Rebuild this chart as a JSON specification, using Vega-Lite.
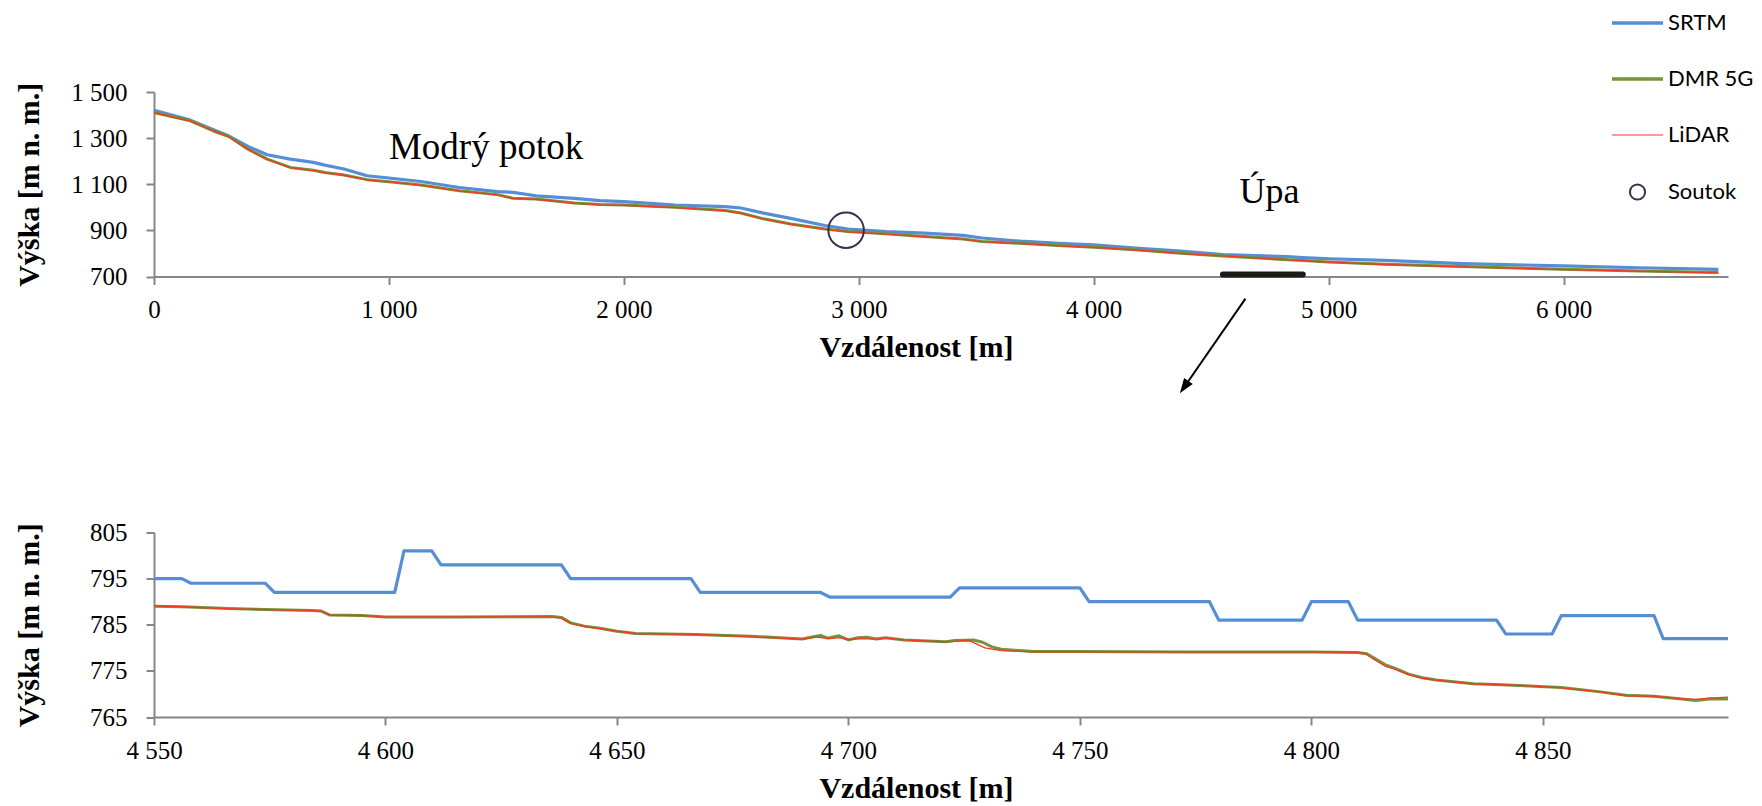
{
  "$schema": "https://vega.github.io/schema/vega-lite/v6.json",
  "background": "white",
  "padding": {"left": 14, "top": 12, "right": 0, "bottom": 0},
  "config": {
    "locale": {"number": {"decimal": ",", "thousands": " ", "grouping": [3], "currency": ["", ""]}},
    "view": {"stroke": null},
    "axis": {"domainColor": "#868686", "domainWidth": 2, "tickColor": "#868686", "tickWidth": 2, "tickSize": 8, "grid": false,
      "labelFont": "Liberation Serif", "labelFontSize": 25, "labelColor": "black",
      "titleFont": "Liberation Serif", "titleFontSize": 30, "titleFontWeight": "bold", "titleColor": "black",
      "labelOverlap": false, "labelFlush": false},
    "axisX": {"labelPadding": 13, "titleX": 762, "titleY": 71, "titleBaseline": "middle", "titleAlign": "center"},
    "axisY": {"labelPadding": 19, "titleX": -125, "titleBaseline": "middle", "titleAlign": "center"}
  },
  "datasets": {
    "profile": [
      {"s": "SRTM", "d": 0, "h": 1421}, {"s": "SRTM", "d": 155, "h": 1378}, {"s": "SRTM", "d": 253, "h": 1336}, {"s": "SRTM", "d": 319, "h": 1309},
      {"s": "SRTM", "d": 400, "h": 1264}, {"s": "SRTM", "d": 482, "h": 1228}, {"s": "SRTM", "d": 580, "h": 1209}, {"s": "SRTM", "d": 678, "h": 1195},
      {"s": "SRTM", "d": 727, "h": 1183}, {"s": "SRTM", "d": 809, "h": 1166}, {"s": "SRTM", "d": 907, "h": 1137}, {"s": "SRTM", "d": 1000, "h": 1127},
      {"s": "SRTM", "d": 1136, "h": 1112}, {"s": "SRTM", "d": 1299, "h": 1086}, {"s": "SRTM", "d": 1462, "h": 1068}, {"s": "SRTM", "d": 1528, "h": 1065},
      {"s": "SRTM", "d": 1626, "h": 1050}, {"s": "SRTM", "d": 1789, "h": 1039}, {"s": "SRTM", "d": 1900, "h": 1029}, {"s": "SRTM", "d": 2000, "h": 1025},
      {"s": "SRTM", "d": 2220, "h": 1010}, {"s": "SRTM", "d": 2432, "h": 1003}, {"s": "SRTM", "d": 2498, "h": 997}, {"s": "SRTM", "d": 2595, "h": 975},
      {"s": "SRTM", "d": 2710, "h": 952}, {"s": "SRTM", "d": 2856, "h": 921}, {"s": "SRTM", "d": 2954, "h": 906}, {"s": "SRTM", "d": 3117, "h": 895},
      {"s": "SRTM", "d": 3280, "h": 888}, {"s": "SRTM", "d": 3444, "h": 878}, {"s": "SRTM", "d": 3525, "h": 867}, {"s": "SRTM", "d": 3688, "h": 853},
      {"s": "SRTM", "d": 3851, "h": 844}, {"s": "SRTM", "d": 4000, "h": 837}, {"s": "SRTM", "d": 4178, "h": 823}, {"s": "SRTM", "d": 4370, "h": 810},
      {"s": "SRTM", "d": 4550, "h": 795}, {"s": "SRTM", "d": 4824, "h": 786}, {"s": "SRTM", "d": 4890, "h": 782}, {"s": "SRTM", "d": 5000, "h": 777},
      {"s": "SRTM", "d": 5239, "h": 770}, {"s": "SRTM", "d": 5571, "h": 756}, {"s": "SRTM", "d": 6000, "h": 746}, {"s": "SRTM", "d": 6319, "h": 738},
      {"s": "SRTM", "d": 6659, "h": 731},
      {"s": "DMR 5G", "d": 0, "h": 1411}, {"s": "DMR 5G", "d": 155, "h": 1375}, {"s": "DMR 5G", "d": 253, "h": 1331}, {"s": "DMR 5G", "d": 319, "h": 1307},
      {"s": "DMR 5G", "d": 400, "h": 1252}, {"s": "DMR 5G", "d": 482, "h": 1209}, {"s": "DMR 5G", "d": 580, "h": 1173}, {"s": "DMR 5G", "d": 678, "h": 1161},
      {"s": "DMR 5G", "d": 727, "h": 1151}, {"s": "DMR 5G", "d": 809, "h": 1140}, {"s": "DMR 5G", "d": 907, "h": 1120}, {"s": "DMR 5G", "d": 1000, "h": 1111},
      {"s": "DMR 5G", "d": 1136, "h": 1097}, {"s": "DMR 5G", "d": 1299, "h": 1072}, {"s": "DMR 5G", "d": 1462, "h": 1055}, {"s": "DMR 5G", "d": 1528, "h": 1039},
      {"s": "DMR 5G", "d": 1626, "h": 1036}, {"s": "DMR 5G", "d": 1789, "h": 1019}, {"s": "DMR 5G", "d": 1900, "h": 1012}, {"s": "DMR 5G", "d": 2000, "h": 1010},
      {"s": "DMR 5G", "d": 2220, "h": 1000}, {"s": "DMR 5G", "d": 2432, "h": 986}, {"s": "DMR 5G", "d": 2498, "h": 975}, {"s": "DMR 5G", "d": 2595, "h": 950},
      {"s": "DMR 5G", "d": 2710, "h": 928}, {"s": "DMR 5G", "d": 2856, "h": 906}, {"s": "DMR 5G", "d": 2954, "h": 895}, {"s": "DMR 5G", "d": 3117, "h": 885},
      {"s": "DMR 5G", "d": 3280, "h": 873}, {"s": "DMR 5G", "d": 3444, "h": 863}, {"s": "DMR 5G", "d": 3525, "h": 852}, {"s": "DMR 5G", "d": 3688, "h": 844},
      {"s": "DMR 5G", "d": 3851, "h": 834}, {"s": "DMR 5G", "d": 4000, "h": 827}, {"s": "DMR 5G", "d": 4178, "h": 816}, {"s": "DMR 5G", "d": 4370, "h": 801},
      {"s": "DMR 5G", "d": 4550, "h": 789}, {"s": "DMR 5G", "d": 4824, "h": 773}, {"s": "DMR 5G", "d": 4890, "h": 769}, {"s": "DMR 5G", "d": 5000, "h": 763},
      {"s": "DMR 5G", "d": 5239, "h": 753}, {"s": "DMR 5G", "d": 5571, "h": 743}, {"s": "DMR 5G", "d": 6000, "h": 731}, {"s": "DMR 5G", "d": 6319, "h": 724},
      {"s": "DMR 5G", "d": 6659, "h": 717},
      {"s": "LiDAR", "d": 0, "h": 1410}, {"s": "LiDAR", "d": 155, "h": 1374}, {"s": "LiDAR", "d": 253, "h": 1331}, {"s": "LiDAR", "d": 319, "h": 1306},
      {"s": "LiDAR", "d": 400, "h": 1251}, {"s": "LiDAR", "d": 482, "h": 1208}, {"s": "LiDAR", "d": 580, "h": 1172}, {"s": "LiDAR", "d": 678, "h": 1160},
      {"s": "LiDAR", "d": 727, "h": 1150}, {"s": "LiDAR", "d": 809, "h": 1139}, {"s": "LiDAR", "d": 907, "h": 1119}, {"s": "LiDAR", "d": 1000, "h": 1110},
      {"s": "LiDAR", "d": 1136, "h": 1096}, {"s": "LiDAR", "d": 1299, "h": 1071}, {"s": "LiDAR", "d": 1462, "h": 1054}, {"s": "LiDAR", "d": 1528, "h": 1039},
      {"s": "LiDAR", "d": 1626, "h": 1035}, {"s": "LiDAR", "d": 1789, "h": 1018}, {"s": "LiDAR", "d": 1900, "h": 1011}, {"s": "LiDAR", "d": 2000, "h": 1009},
      {"s": "LiDAR", "d": 2220, "h": 999}, {"s": "LiDAR", "d": 2432, "h": 985}, {"s": "LiDAR", "d": 2498, "h": 974}, {"s": "LiDAR", "d": 2595, "h": 949},
      {"s": "LiDAR", "d": 2710, "h": 927}, {"s": "LiDAR", "d": 2856, "h": 905}, {"s": "LiDAR", "d": 2954, "h": 894}, {"s": "LiDAR", "d": 3117, "h": 884},
      {"s": "LiDAR", "d": 3280, "h": 872}, {"s": "LiDAR", "d": 3444, "h": 862}, {"s": "LiDAR", "d": 3525, "h": 851}, {"s": "LiDAR", "d": 3688, "h": 843},
      {"s": "LiDAR", "d": 3851, "h": 833}, {"s": "LiDAR", "d": 4000, "h": 826}, {"s": "LiDAR", "d": 4178, "h": 815}, {"s": "LiDAR", "d": 4370, "h": 800},
      {"s": "LiDAR", "d": 4550, "h": 789}, {"s": "LiDAR", "d": 4824, "h": 773}, {"s": "LiDAR", "d": 4890, "h": 769}, {"s": "LiDAR", "d": 5000, "h": 762},
      {"s": "LiDAR", "d": 5239, "h": 752}, {"s": "LiDAR", "d": 5571, "h": 742}, {"s": "LiDAR", "d": 6000, "h": 730}, {"s": "LiDAR", "d": 6319, "h": 723},
      {"s": "LiDAR", "d": 6659, "h": 716}
    ],
    "soutok": [{"s": "Soutok", "d": 2946, "h": 901}],
    "labels": [{"label": "Modrý potok", "d": 1000, "h": 1211, "z": 37}, {"label": "Úpa", "d": 4621, "h": 1017, "z": 36}],
    "segment": [{"d": 4550, "d2": 4890, "h": 709}],
    "arrow": [{"d": 4646, "h": 604, "d2": 4385, "h2": 220}],
    "detail": [
      {"s": "SRTM", "d": 4550, "h": 795}, {"s": "SRTM", "d": 4556, "h": 795}, {"s": "SRTM", "d": 4558, "h": 794}, {"s": "SRTM", "d": 4574, "h": 794},
      {"s": "SRTM", "d": 4576, "h": 792}, {"s": "SRTM", "d": 4602, "h": 792}, {"s": "SRTM", "d": 4604, "h": 801}, {"s": "SRTM", "d": 4610, "h": 801},
      {"s": "SRTM", "d": 4612, "h": 798}, {"s": "SRTM", "d": 4638, "h": 798}, {"s": "SRTM", "d": 4640, "h": 795}, {"s": "SRTM", "d": 4666, "h": 795},
      {"s": "SRTM", "d": 4668, "h": 792}, {"s": "SRTM", "d": 4694, "h": 792}, {"s": "SRTM", "d": 4696, "h": 791}, {"s": "SRTM", "d": 4722, "h": 791},
      {"s": "SRTM", "d": 4724, "h": 793}, {"s": "SRTM", "d": 4750, "h": 793}, {"s": "SRTM", "d": 4752, "h": 790}, {"s": "SRTM", "d": 4778, "h": 790},
      {"s": "SRTM", "d": 4780, "h": 786}, {"s": "SRTM", "d": 4798, "h": 786}, {"s": "SRTM", "d": 4800, "h": 790}, {"s": "SRTM", "d": 4808, "h": 790},
      {"s": "SRTM", "d": 4810, "h": 786}, {"s": "SRTM", "d": 4840, "h": 786}, {"s": "SRTM", "d": 4842, "h": 783}, {"s": "SRTM", "d": 4852, "h": 783},
      {"s": "SRTM", "d": 4854, "h": 787}, {"s": "SRTM", "d": 4874, "h": 787}, {"s": "SRTM", "d": 4876, "h": 782}, {"s": "SRTM", "d": 4890, "h": 782},
      {"s": "DMR 5G", "d": 4550, "h": 789.0}, {"s": "DMR 5G", "d": 4556, "h": 788.9}, {"s": "DMR 5G", "d": 4566, "h": 788.5}, {"s": "DMR 5G", "d": 4574, "h": 788.3},
      {"s": "DMR 5G", "d": 4584, "h": 788.1}, {"s": "DMR 5G", "d": 4586, "h": 788.0}, {"s": "DMR 5G", "d": 4588, "h": 787.1}, {"s": "DMR 5G", "d": 4595, "h": 787.0},
      {"s": "DMR 5G", "d": 4600, "h": 786.7}, {"s": "DMR 5G", "d": 4616, "h": 786.7}, {"s": "DMR 5G", "d": 4636, "h": 786.8}, {"s": "DMR 5G", "d": 4638, "h": 786.6},
      {"s": "DMR 5G", "d": 4640, "h": 785.4}, {"s": "DMR 5G", "d": 4643, "h": 784.7}, {"s": "DMR 5G", "d": 4646, "h": 784.3}, {"s": "DMR 5G", "d": 4650, "h": 783.6},
      {"s": "DMR 5G", "d": 4654, "h": 783.1}, {"s": "DMR 5G", "d": 4667, "h": 782.9}, {"s": "DMR 5G", "d": 4679, "h": 782.5}, {"s": "DMR 5G", "d": 4690, "h": 781.9},
      {"s": "DMR 5G", "d": 4693, "h": 782.5}, {"s": "DMR 5G", "d": 4694, "h": 782.7}, {"s": "DMR 5G", "d": 4695.5, "h": 782.1}, {"s": "DMR 5G", "d": 4697, "h": 782.4},
      {"s": "DMR 5G", "d": 4698, "h": 782.6}, {"s": "DMR 5G", "d": 4700, "h": 781.7}, {"s": "DMR 5G", "d": 4702, "h": 782.2}, {"s": "DMR 5G", "d": 4704, "h": 782.3},
      {"s": "DMR 5G", "d": 4706, "h": 781.9}, {"s": "DMR 5G", "d": 4708, "h": 782.2}, {"s": "DMR 5G", "d": 4712, "h": 781.7}, {"s": "DMR 5G", "d": 4721, "h": 781.3},
      {"s": "DMR 5G", "d": 4723, "h": 781.6}, {"s": "DMR 5G", "d": 4727, "h": 781.7}, {"s": "DMR 5G", "d": 4729, "h": 781.2}, {"s": "DMR 5G", "d": 4731, "h": 780.2},
      {"s": "DMR 5G", "d": 4733, "h": 779.7}, {"s": "DMR 5G", "d": 4740, "h": 779.2}, {"s": "DMR 5G", "d": 4750, "h": 779.2}, {"s": "DMR 5G", "d": 4772, "h": 779.1},
      {"s": "DMR 5G", "d": 4800, "h": 779.1}, {"s": "DMR 5G", "d": 4810, "h": 779.0}, {"s": "DMR 5G", "d": 4812, "h": 778.7}, {"s": "DMR 5G", "d": 4814, "h": 777.5},
      {"s": "DMR 5G", "d": 4816, "h": 776.3}, {"s": "DMR 5G", "d": 4818, "h": 775.6}, {"s": "DMR 5G", "d": 4821, "h": 774.3}, {"s": "DMR 5G", "d": 4824, "h": 773.5},
      {"s": "DMR 5G", "d": 4827, "h": 773.0}, {"s": "DMR 5G", "d": 4835, "h": 772.2}, {"s": "DMR 5G", "d": 4841, "h": 772.0}, {"s": "DMR 5G", "d": 4846, "h": 771.8},
      {"s": "DMR 5G", "d": 4854, "h": 771.4}, {"s": "DMR 5G", "d": 4862, "h": 770.5}, {"s": "DMR 5G", "d": 4868, "h": 769.7}, {"s": "DMR 5G", "d": 4874, "h": 769.5},
      {"s": "DMR 5G", "d": 4880, "h": 768.9}, {"s": "DMR 5G", "d": 4883, "h": 768.6}, {"s": "DMR 5G", "d": 4886, "h": 768.9}, {"s": "DMR 5G", "d": 4890, "h": 768.9},
      {"s": "LiDAR", "d": 4550, "h": 789.1}, {"s": "LiDAR", "d": 4556, "h": 788.9}, {"s": "LiDAR", "d": 4566, "h": 788.5}, {"s": "LiDAR", "d": 4574, "h": 788.3},
      {"s": "LiDAR", "d": 4584, "h": 788.1}, {"s": "LiDAR", "d": 4586, "h": 788.0}, {"s": "LiDAR", "d": 4588, "h": 787.1}, {"s": "LiDAR", "d": 4595, "h": 787.0},
      {"s": "LiDAR", "d": 4600, "h": 786.7}, {"s": "LiDAR", "d": 4616, "h": 786.7}, {"s": "LiDAR", "d": 4636, "h": 786.7}, {"s": "LiDAR", "d": 4638, "h": 786.4},
      {"s": "LiDAR", "d": 4640, "h": 785.3}, {"s": "LiDAR", "d": 4643, "h": 784.6}, {"s": "LiDAR", "d": 4646, "h": 784.2}, {"s": "LiDAR", "d": 4650, "h": 783.6},
      {"s": "LiDAR", "d": 4654, "h": 783.1}, {"s": "LiDAR", "d": 4667, "h": 782.9}, {"s": "LiDAR", "d": 4679, "h": 782.4}, {"s": "LiDAR", "d": 4690, "h": 781.9},
      {"s": "LiDAR", "d": 4693, "h": 782.3}, {"s": "LiDAR", "d": 4696, "h": 782.0}, {"s": "LiDAR", "d": 4698, "h": 782.2}, {"s": "LiDAR", "d": 4700, "h": 781.8},
      {"s": "LiDAR", "d": 4703, "h": 782.0}, {"s": "LiDAR", "d": 4706, "h": 781.9}, {"s": "LiDAR", "d": 4708, "h": 782.1}, {"s": "LiDAR", "d": 4712, "h": 781.7},
      {"s": "LiDAR", "d": 4721, "h": 781.3}, {"s": "LiDAR", "d": 4726, "h": 781.6}, {"s": "LiDAR", "d": 4729.5, "h": 780.0}, {"s": "LiDAR", "d": 4733, "h": 779.4},
      {"s": "LiDAR", "d": 4740, "h": 779.1}, {"s": "LiDAR", "d": 4750, "h": 779.1}, {"s": "LiDAR", "d": 4772, "h": 779.1}, {"s": "LiDAR", "d": 4800, "h": 779.1},
      {"s": "LiDAR", "d": 4810, "h": 779.0}, {"s": "LiDAR", "d": 4812, "h": 778.5}, {"s": "LiDAR", "d": 4814, "h": 777.2}, {"s": "LiDAR", "d": 4816, "h": 776.0},
      {"s": "LiDAR", "d": 4818, "h": 775.4}, {"s": "LiDAR", "d": 4821, "h": 774.2}, {"s": "LiDAR", "d": 4824, "h": 773.4}, {"s": "LiDAR", "d": 4827, "h": 773.0},
      {"s": "LiDAR", "d": 4835, "h": 772.2}, {"s": "LiDAR", "d": 4841, "h": 772.0}, {"s": "LiDAR", "d": 4846, "h": 771.8}, {"s": "LiDAR", "d": 4854, "h": 771.3},
      {"s": "LiDAR", "d": 4862, "h": 770.5}, {"s": "LiDAR", "d": 4868, "h": 769.6}, {"s": "LiDAR", "d": 4874, "h": 769.5}, {"s": "LiDAR", "d": 4880, "h": 769.0},
      {"s": "LiDAR", "d": 4883, "h": 768.8}, {"s": "LiDAR", "d": 4886, "h": 769.1}, {"s": "LiDAR", "d": 4890, "h": 769.3}
    ]
  },
  "bounds": "flush",
  "spacing": 255.5,
  "resolve": {"scale": {"color": "independent", "x": "independent", "y": "independent"}, "legend": {"color": "independent"}},
  "vconcat": [
    {
      "width": 1574,
      "height": 184.5,
      "encoding": {
        "x": {"field": "d", "type": "quantitative", "scale": {"domain": [0, 6700], "nice": false, "zero": false},
          "axis": {"values": [0, 1000, 2000, 3000, 4000, 5000, 6000], "format": ",d", "title": "Vzdálenost [m]"}},
        "y": {"field": "h", "type": "quantitative", "scale": {"domain": [700, 1500], "nice": false, "zero": false},
          "axis": {"values": [700, 900, 1100, 1300, 1500], "format": ",d", "title": "Výška [m n. m.]"}}
      },
      "layer": [
        {
          "data": {"name": "profile"},
          "transform": [{"filter": "datum.s === 'SRTM'"}],
          "mark": {"type": "line", "strokeWidth": 3.2, "strokeJoin": "round"},
          "encoding": {
            "color": {"field": "s", "type": "nominal",
              "scale": {"domain": ["SRTM", "DMR 5G", "LiDAR", "Soutok"], "range": ["#558ED5", "#77933C", "#F23A22", "#3B2F50"]},
              "legend": {"title": null, "orient": "none", "legendX": 1472.5, "legendY": -80, "padding": 0, "offset": 0,
                "symbolSize": 2601, "symbolType": "stroke", "labelFont": "Lato", "labelFontSize": 22, "labelColor": "black",
                "labelOffset": 19.5, "rowPadding": 34, "labelLimit": 300,
                "encode": {"symbols": {"update": {
                  "shape": {"signal": "datum.value === 'Soutok' ? 'circle' : 'stroke'"},
                  "size": {"signal": "datum.value === 'Soutok' ? 230 : 2601"},
                  "strokeWidth": {"signal": "datum.value === 'LiDAR' ? 1 : (datum.value === 'Soutok' ? 2 : 3.5)"},
                  "fill": {"value": "transparent"},
                  "fillOpacity": {"value": 0},
                  "opacity": {"value": 1},
                  "stroke": {"signal": "datum.value === 'SRTM' ? '#558ED5' : (datum.value === 'DMR 5G' ? '#77933C' : (datum.value === 'LiDAR' ? '#F23A22' : '#3B2F50'))"}
                }}}}
            }
          }
        },
        {
          "data": {"name": "profile"},
          "transform": [{"filter": "datum.s === 'DMR 5G'"}],
          "mark": {"type": "line", "strokeWidth": 3, "strokeJoin": "round"},
          "encoding": {"color": {"field": "s", "type": "nominal"}}
        },
        {
          "data": {"name": "profile"},
          "transform": [{"filter": "datum.s === 'LiDAR'"}],
          "mark": {"type": "line", "strokeWidth": 1.3, "strokeJoin": "round"},
          "encoding": {"color": {"field": "s", "type": "nominal"}}
        },
        {
          "data": {"name": "soutok"},
          "mark": {"type": "point", "filled": false, "size": 1257, "strokeWidth": 2, "opacity": 1},
          "encoding": {"color": {"field": "s", "type": "nominal"}}
        },
        {
          "data": {"name": "labels"},
          "mark": {"type": "text", "align": "left", "baseline": "alphabetic", "font": "Liberation Serif", "color": "black"},
          "encoding": {"text": {"field": "label"}, "size": {"field": "z", "type": "quantitative", "scale": null, "legend": null}}
        },
        {
          "data": {"name": "segment"},
          "mark": {"type": "rule", "strokeWidth": 6, "strokeCap": "round", "color": "#1E1B16"},
          "encoding": {"x2": {"field": "d2"}}
        },
        {
          "data": {"name": "arrow"},
          "mark": {"type": "rule", "strokeWidth": 2, "color": "black", "clip": false},
          "encoding": {"x2": {"field": "d2"}, "y2": {"field": "h2"}}
        },
        {
          "data": {"name": "arrow"},
          "mark": {"type": "point", "shape": "M0,-1L0.7,1L-0.7,1Z", "filled": true, "size": 225, "angle": 214.8, "color": "black", "opacity": 1, "clip": false},
          "encoding": {"x": {"field": "d2", "type": "quantitative"}, "y": {"field": "h2", "type": "quantitative"}}
        }
      ]
    },
    {
      "width": 1574,
      "height": 184.5,
      "data": {"name": "detail"},
      "encoding": {
        "x": {"field": "d", "type": "quantitative", "scale": {"domain": [4550, 4890], "nice": false, "zero": false},
          "axis": {"values": [4550, 4600, 4650, 4700, 4750, 4800, 4850], "format": ",d", "title": "Vzdálenost [m]"}},
        "y": {"field": "h", "type": "quantitative", "scale": {"domain": [765, 805], "nice": false, "zero": false},
          "axis": {"values": [765, 775, 785, 795, 805], "format": ",d", "title": "Výška [m n. m.]"}},
        "color": {"field": "s", "type": "nominal",
          "scale": {"domain": ["SRTM", "DMR 5G", "LiDAR"], "range": ["#558ED5", "#77933C", "#F23A22"]}, "legend": null}
      },
      "layer": [
        {"transform": [{"filter": "datum.s === 'SRTM'"}], "mark": {"type": "line", "strokeWidth": 3.2, "strokeJoin": "round"}},
        {"transform": [{"filter": "datum.s === 'DMR 5G'"}], "mark": {"type": "line", "strokeWidth": 3, "strokeJoin": "round"}},
        {"transform": [{"filter": "datum.s === 'LiDAR'"}], "mark": {"type": "line", "strokeWidth": 1.3, "strokeJoin": "round"}}
      ]
    }
  ]
}
